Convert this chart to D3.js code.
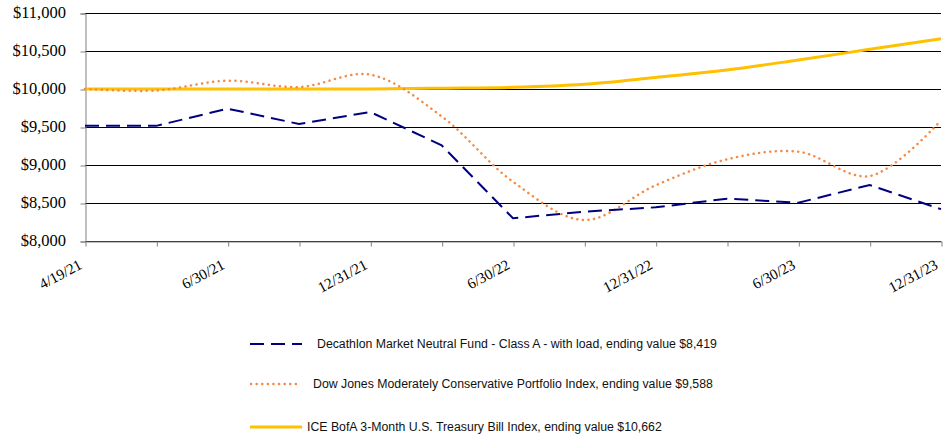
<!DOCTYPE html>
<html>
<head>
<meta charset="utf-8">
<script src="https://cdn.jsdelivr.net/npm/d3@7"></script>
<style>
  html, body { margin: 0; padding: 0; background: #fff; }
  svg { display: block; }
</style>
</head>
<body>
<svg id="chart" width="948" height="438"></svg>
<script>
const categories = ["4/19/21","4/30/21","6/30/21","9/30/21","12/31/21","3/31/22","6/30/22","9/30/22","12/31/22","3/31/23","6/30/23","9/30/23","12/31/23"];
const tickLabels = ["4/19/21","6/30/21","12/31/21","6/30/22","12/31/22","6/30/23","12/31/23"];
const fundValues = [9515, 9515, 9741, 9540, 9697, 9259, 8299, 8386, 8443, 8557, 8504, 8737, 8419];
const dowValues = [10000, 9980, 10109, 10025, 10188, 9640, 8780, 8276, 8733, 9075, 9175, 8855, 9588];
const tbillValues = [10000, 10000, 10000, 10000, 10001, 10010, 10022, 10062, 10152, 10250, 10382, 10522, 10662];
const yTicks = [8000, 8500, 9000, 9500, 10000, 10500, 11000];
const seriesNames = [
  "Decathlon Market Neutral Fund - Class A - with load, ending value $8,419",
  "Dow Jones Moderately Conservative Portfolio Index, ending value $9,588",
  "ICE BofA 3-Month U.S. Treasury Bill Index, ending value $10,662"
];

(function () {
const svg = d3.select("#chart");
const pL = 85, pR = 941, pT = 13, pB = 241;
const serif = "Liberation Serif";

const x = d3.scalePoint().domain(categories).range([pL, pR]);
const y = d3.scaleLinear().domain([8000, 11000]).range([pB, pT]);

// gridlines
svg.append("g").selectAll("line").data(yTicks).join("line")
  .attr("x1", pL).attr("x2", pR)
  .attr("y1", d => Math.round(y(d)) + 0.5).attr("y2", d => Math.round(y(d)) + 0.5)
  .attr("stroke", "#000").attr("stroke-width", 1);

// y axis (line + ticks)
const yAxis = svg.append("g").attr("transform", `translate(${pL + 0.5},0.5)`)
  .call(d3.axisLeft(y).tickValues(yTicks).tickSize(5).tickFormat(""));
yAxis.select(".domain").attr("stroke", "#808080");
yAxis.selectAll(".tick line").attr("stroke", "#808080");

// y labels
svg.append("g").selectAll("text").data(yTicks).join("text")
  .attr("x", pL - 19).attr("y", d => y(d)).attr("dy", "0.33em")
  .attr("text-anchor", "end")
  .attr("font-family", serif).attr("font-size", 16.5).attr("fill", "#000")
  .text(d => "$" + d3.format(",")(d));

// x axis (line + ticks)
const xAxis = svg.append("g").attr("transform", `translate(0.5,${pB + 0.5})`)
  .call(d3.axisBottom(x).tickSize(5).tickSizeOuter(0).tickFormat(""));
xAxis.select(".domain").attr("stroke", "#808080");
xAxis.selectAll(".tick line").attr("stroke", "#808080");

// x labels
svg.append("g").selectAll("text").data(tickLabels).join("text")
  .attr("transform", d => `translate(${x(d) - 2},${pB + 27}) rotate(-28)`)
  .attr("text-anchor", "end")
  .attr("font-family", serif).attr("font-size", 15).attr("fill", "#000")
  .text(d => d);

const line = d3.line().x((d, i) => x(categories[i])).y(d => y(d));
const smooth = d3.line().x((d, i) => x(categories[i])).y(d => y(d)).curve(d3.curveCatmullRom.alpha(0.5));

svg.append("path").datum(tbillValues).attr("d", smooth)
  .attr("fill", "none").attr("stroke", "#FFC000").attr("stroke-width", 3);
svg.append("path").datum(dowValues).attr("d", smooth)
  .attr("fill", "none").attr("stroke", "#F58A46").attr("stroke-width", 2.5)
  .attr("stroke-linecap", "round")
  .attr("stroke-dasharray", "0.1,5.5");
svg.append("path").datum(fundValues).attr("d", line)
  .attr("fill", "none").attr("stroke", "#000080").attr("stroke-width", 2)
  .attr("stroke-dasharray", "14,7");

// legend
const legend = [
  { y: 344, dash: "14,7", cap: "butt", color: "#000080", w: 2, x1: 250, x2: 302, tx: 317 },
  { y: 384, dash: "0.1,5.5", cap: "round", color: "#F58A46", w: 2.5, x1: 251, x2: 299, tx: 313 },
  { y: 427, dash: null, cap: "butt", color: "#FFC000", w: 3, x1: 250, x2: 302, tx: 307 }
];
const lg = svg.append("g");
legend.forEach((l, i) => {
  lg.append("line").attr("x1", l.x1).attr("x2", l.x2).attr("y1", l.y).attr("y2", l.y)
    .attr("stroke", l.color).attr("stroke-width", l.w)
    .attr("stroke-linecap", l.cap)
    .attr("stroke-dasharray", l.dash);
  lg.append("text").attr("x", l.tx).attr("y", l.y).attr("dy", "0.35em")
    .attr("font-family", "Liberation Sans").attr("font-size", 12.3).attr("fill", "#111")
    .text(seriesNames[i]);
});
})();
</script>
</body>
</html>
